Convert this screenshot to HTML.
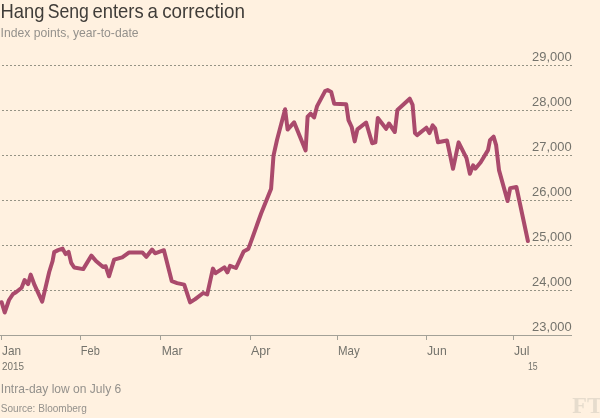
<!DOCTYPE html>
<html><head><meta charset="utf-8">
<style>
html,body{margin:0;padding:0;background:#fff1e0;}
body{width:600px;height:418px;overflow:hidden;position:relative;}
svg{position:absolute;left:0;top:0;will-change:transform;}
text{font-family:"Liberation Sans",sans-serif;}
</style></head><body>
<svg width="600" height="418" viewBox="0 0 600 418">

<g font-size="20.3" fill="#403d39"><text x="0.4" y="17.8" textLength="44.0" lengthAdjust="spacingAndGlyphs">Hang</text><text x="47.7" y="17.8" textLength="41.2" lengthAdjust="spacingAndGlyphs">Seng</text><text x="92.4" y="17.8" textLength="51.2" lengthAdjust="spacingAndGlyphs">enters</text><text x="147.6" y="17.8" textLength="10.4" lengthAdjust="spacingAndGlyphs">a</text><text x="162.2" y="17.8" textLength="82.7" lengthAdjust="spacingAndGlyphs">correction</text></g>
<text x="0.6" y="36.9" font-size="12.7" fill="#94918c" textLength="138" lengthAdjust="spacingAndGlyphs">Index points, year-to-date</text>
<g stroke="#959385" stroke-width="1" stroke-dasharray="2,2" fill="none">
<path d="M572 65.5H0M572 110.5H0M572 155.5H0M572 200.5H0M572 245.5H0M572 290.5H0"/>
</g>
<path d="M0 335.5H572" stroke="#a3a197" stroke-width="1" fill="none"/>
<g stroke="#a3a197" stroke-width="1">
<path d="M1.5 335V340M80.5 335V340M160.5 335V340M250.5 335V340M337.5 335V340M426.5 335V340M513.5 335V340"/>
</g>
<g font-size="13.1" fill="#74736c">
<text x="571.6" y="61" text-anchor="end" textLength="39.5" lengthAdjust="spacingAndGlyphs">29,000</text>
<text x="571.6" y="106" text-anchor="end" textLength="39.5" lengthAdjust="spacingAndGlyphs">28,000</text>
<text x="571.6" y="151" text-anchor="end" textLength="39.5" lengthAdjust="spacingAndGlyphs">27,000</text>
<text x="571.6" y="196" text-anchor="end" textLength="39.5" lengthAdjust="spacingAndGlyphs">26,000</text>
<text x="571.6" y="241" text-anchor="end" textLength="39.5" lengthAdjust="spacingAndGlyphs">25,000</text>
<text x="571.6" y="286" text-anchor="end" textLength="39.5" lengthAdjust="spacingAndGlyphs">24,000</text>
<text x="571.6" y="331" text-anchor="end" textLength="39.5" lengthAdjust="spacingAndGlyphs">23,000</text>
</g>
<g font-size="12.8" fill="#74736c">
<text x="2" y="354.8" textLength="19" lengthAdjust="spacingAndGlyphs">Jan</text>
<text x="80.8" y="354.8" textLength="19" lengthAdjust="spacingAndGlyphs">Feb</text>
<text x="161.7" y="354.8" textLength="21" lengthAdjust="spacingAndGlyphs">Mar</text>
<text x="251" y="354.8" textLength="19.5" lengthAdjust="spacingAndGlyphs">Apr</text>
<text x="338" y="354.8" textLength="21.7" lengthAdjust="spacingAndGlyphs">May</text>
<text x="427" y="354.8" textLength="19.7" lengthAdjust="spacingAndGlyphs">Jun</text>
<text x="514" y="354.8" textLength="15.5" lengthAdjust="spacingAndGlyphs">Jul</text>
</g>
<g font-size="11" fill="#74736c">
<text x="2" y="369.7" textLength="22" lengthAdjust="spacingAndGlyphs">2015</text>
<text x="527.9" y="369.7" textLength="9.7" lengthAdjust="spacingAndGlyphs">15</text>
</g>
<text x="0.8" y="392.9" font-size="12.8" fill="#94918c" textLength="120.5" lengthAdjust="spacingAndGlyphs">Intra-day low on July 6</text>
<text x="0.8" y="411.7" font-size="10.8" fill="#94918c" textLength="86" lengthAdjust="spacingAndGlyphs">Source: Bloomberg</text>
<text x="572.3" y="412.8" style="font-family:'Liberation Serif',serif;font-weight:bold" font-size="24" fill="#e6dccd">FT</text>
<path d="M1.6 302.2 L4.7 312.5 L9 300 L13 294 L16 292.3 L21.6 287.7 L24.6 280.1 L28.1 284.1 L30.7 274.6 L34.6 285.2 L42.2 301.6 L49.2 272 L52.6 261 L54.2 252.1 L58.1 250.1 L62.6 248.6 L65.6 254.1 L68.6 251.9 L71.2 262.9 L74.2 267.5 L83.2 269.1 L91.4 255.6 L96 261 L103.1 267 L105.7 266.3 L109 276.3 L114.1 259.6 L122.2 257.4 L129.2 252.4 L142.3 252.4 L146.4 256.8 L152.1 249.5 L155.1 253.3 L163.9 250.2 L171.8 281.2 L177.1 283.1 L184.2 284.6 L190.1 302.4 L195.2 299.1 L203.2 293 L207.2 294.5 L212.9 268.6 L215.6 273.2 L224.4 267.4 L227.4 272.4 L230.1 265.8 L236 268 L243.6 251.6 L248.2 249.1 L251.2 241.1 L261.1 213.5 L271.1 188.7 L273.5 155.6 L277 140 L285.1 109.3 L287.6 129.6 L294.1 122.3 L305.6 150.5 L307.6 116.6 L310.6 113.7 L314.1 117.5 L317.1 106.1 L325.1 91.1 L327.6 90.1 L331.2 92.1 L334.2 103.8 L346.2 104.2 L348.5 120.1 L351.7 127 L354.7 141.4 L357.4 129.4 L366.1 122.5 L372.2 143.2 L375.4 142.4 L377.8 118 L386.1 128.8 L389 123.5 L394.8 132 L397.4 110 L409.7 98.7 L412.6 104.9 L415 133.1 L417.1 135.1 L426.4 127.7 L429.4 133.1 L432.7 125.4 L435.2 128.6 L438 142.3 L447 140.5 L453 168.8 L458.6 142.4 L466.5 158.1 L469.9 173.7 L473.1 165.4 L475.3 168.7 L480.7 162.2 L488 150.1 L490 140.1 L493.6 136.6 L496.1 145.1 L499 170.1 L507.6 201 L510.2 188.1 L516.4 187 L527.9 241" fill="none" stroke="#aa4a6c" stroke-width="4" stroke-linejoin="round" stroke-linecap="round"/>
</svg>
</body></html>
